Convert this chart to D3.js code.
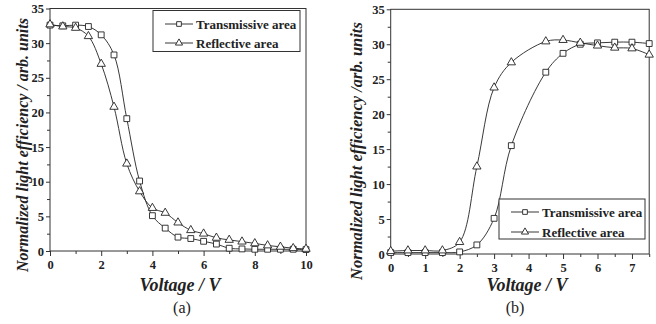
<!DOCTYPE html>
<html>
<head>
<meta charset="utf-8">
<script src="https://cdn.jsdelivr.net/npm/d3@7"></script>
<style>
  html, body { margin: 0; padding: 0; background: #fff; }
  svg { display: block; }
  .tick line { stroke: #333; }
</style>
</head>
<body>
<svg id="chart" width="656" height="324"></svg>
<script>
// ---- Data: panel (a) ----
const voltsA = [0, 0.5, 1, 1.5, 2, 2.5, 3, 3.5, 4, 4.5, 5, 5.5, 6, 6.5, 7, 7.5, 8, 8.5, 9, 9.5, 10];
const transA = [32.6, 32.5, 32.6, 32.4, 31.2, 28.3, 19.1, 10.1, 5.1, 3.3, 2.0, 1.8, 1.4, 1.0, 0.4, 0.3, 0.25, 0.25, 0.25, 0.25, 0.2];
const reflA  = [32.7, 32.4, 32.2, 31.0, 27.0, 20.8, 12.6, 8.6, 6.2, 5.5, 4.1, 3.0, 2.5, 1.9, 1.6, 1.35, 1.1, 0.8, 0.6, 0.4, 0.3];

// ---- Data: panel (b) (no sample at 4 V) ----
const voltsB = [0, 0.5, 1, 1.5, 2, 2.5, 3, 3.5, 4.5, 5, 5.5, 6, 6.5, 7, 7.5];
const transB = [0.2, 0.2, 0.2, 0.2, 0.3, 1.3, 5.1, 15.5, 26.0, 28.7, 30.0, 30.2, 30.3, 30.3, 30.1];
const reflB  = [0.4, 0.5, 0.5, 0.5, 1.7, 12.5, 23.8, 27.4, 30.4, 30.6, 30.2, 29.8, 29.5, 29.4, 28.5];

const yTicks = [0, 5, 10, 15, 20, 25, 30, 35];
const seriesNames = ['Transmissive area', 'Reflective area'];

const svg = d3.select('#chart');
const serif = '"Liberation Serif", "Times New Roman", Times, serif';
const ink = '#222';

const square = d3.symbol().type(d3.symbolSquare).size(34);
const triangle = d3.symbol().type(d3.symbolTriangle).size(30);
const squareSm = d3.symbol().type(d3.symbolSquare).size(22);
const triangleSm = d3.symbol().type(d3.symbolTriangle).size(22);

function marker(sel, kind, small) {
  const sym = kind === 'sq' ? (small ? squareSm : square) : (small ? triangleSm : triangle);
  sel.append('path')
    .attr('d', sym)
    .attr('fill', '#fff')
    .attr('stroke', ink)
    .attr('stroke-width', 0.9);
}

function styleTicks(s) {
  s.select('.domain').remove();
  s.attr('font-family', serif).attr('font-size', 12.5).attr('font-weight', 'bold');
  s.selectAll('text').attr('fill', ink);
}

function panel(o) {
  const x = d3.scaleLinear().domain([0, o.xMax]).range([o.x0, o.x1]);
  const y = d3.scaleLinear().domain([0, 35]).range([o.y0, o.y1]);
  const g = svg.append('g');

  // frame
  g.append('rect')
    .attr('x', o.x0).attr('y', o.y1)
    .attr('width', o.x1 - o.x0).attr('height', o.y0 - o.y1)
    .attr('fill', 'none').attr('stroke', '#333').attr('stroke-width', 1);

  // minor ticks
  g.append('g')
    .attr('transform', `translate(0,${o.y0})`)
    .call(d3.axisBottom(x).tickValues(o.xMinor).tickSize(3).tickFormat(''))
    .call(styleTicks);
  g.append('g')
    .attr('transform', `translate(${o.x0},0)`)
    .call(d3.axisLeft(y).tickValues(d3.range(2.5, 35, 5)).tickSize(3).tickFormat(''))
    .call(styleTicks);

  // major axes
  g.append('g')
    .attr('transform', `translate(0,${o.y0})`)
    .call(d3.axisBottom(x).tickValues(o.xTicks).tickSize(5).tickPadding(4).tickSizeOuter(0))
    .call(styleTicks);
  g.append('g')
    .attr('transform', `translate(${o.x0},0)`)
    .call(d3.axisLeft(y).tickValues(yTicks).tickSize(4).tickPadding(2).tickSizeOuter(0))
    .call(styleTicks);

  // curves
  const line = d3.line()
    .x(d => x(d[0])).y(d => y(d[1]))
    .curve(d3.curveCatmullRom.alpha(0.5));

  o.series.forEach(s => {
    const pts = o.volts.map((v, i) => [v, s.vals[i]]);
    g.append('path')
      .datum(pts)
      .attr('d', line)
      .attr('fill', 'none')
      .attr('stroke', ink)
      .attr('stroke-width', 0.9);
  });
  o.series.forEach(s => {
    const pts = o.volts.map((v, i) => [v, s.vals[i]]);
    g.selectAll(null).data(pts).join('g')
      .attr('transform', d => `translate(${x(d[0])},${y(d[1])})`)
      .each(function () { marker(d3.select(this), s.kind, false); });
  });

  // legend
  const L = o.legend;
  g.append('rect')
    .attr('x', L.x).attr('y', L.y).attr('width', L.w).attr('height', L.h)
    .attr('fill', '#fff').attr('stroke', '#333').attr('stroke-width', 1);
  o.series.forEach((s, i) => {
    const ly = L.rows[i];
    const row = g.append('g');
    row.append('line')
      .attr('x1', L.lx).attr('x2', L.lx + 28)
      .attr('y1', ly).attr('y2', ly)
      .attr('stroke', ink).attr('stroke-width', 0.9);
    const m = row.append('g').attr('transform', `translate(${L.lx + 14},${ly})`);
    marker(m, s.kind, true);
    row.append('text')
      .attr('x', L.lx + 31).attr('y', ly + 4.5)
      .attr('font-family', serif).attr('font-weight', 'bold').attr('font-size', '13px')
      .attr('fill', ink)
      .text(seriesNames[i]);
  });

  // axis titles
  g.append('text')
    .attr('transform', `translate(${o.ytX},${o.ytY}) rotate(-90)`)
    .attr('text-anchor', 'middle')
    .attr('font-family', serif).attr('font-weight', 'bold').attr('font-style', 'italic')
    .attr('font-size', o.ytSize + 'px').attr('fill', ink)
    .text(o.yTitle);
  g.append('text')
    .attr('x', o.xtX).attr('y', 291)
    .attr('text-anchor', 'middle')
    .attr('font-family', serif).attr('font-weight', 'bold').attr('font-style', 'italic')
    .attr('font-size', '18px').attr('fill', ink)
    .text('Voltage / V');
  g.append('text')
    .attr('x', o.capX).attr('y', 313)
    .attr('text-anchor', 'middle')
    .attr('font-family', serif).attr('font-size', '16px').attr('fill', ink)
    .text(o.caption);
}

panel({
  x0: 50, x1: 306, y0: 251, y1: 8.5, xMax: 10,
  xTicks: [0, 2, 4, 6, 8, 10], xMinor: [1, 3, 5, 7, 9],
  volts: voltsA,
  series: [{ vals: transA, kind: 'sq' }, { vals: reflA, kind: 'tri' }],
  legend: { x: 153, y: 10.5, w: 147, h: 41, lx: 165, rows: [24, 43] },
  yTitle: 'Normalized light efficiency / arb. units', ytX: 28, ytY: 145, ytSize: 16,
  xtX: 180, capX: 182, caption: '(a)'
});

panel({
  x0: 390.7, x1: 649.2, y0: 254, y1: 9.3, xMax: 7.5,
  xTicks: [0, 1, 2, 3, 4, 5, 6, 7], xMinor: [0.5, 1.5, 2.5, 3.5, 4.5, 5.5, 6.5, 7.5],
  volts: voltsB,
  series: [{ vals: transB, kind: 'sq' }, { vals: reflB, kind: 'tri' }],
  legend: { x: 499, y: 199, w: 146, h: 40, lx: 511, rows: [212, 232] },
  yTitle: 'Normalized light efficiency /arb. units', ytX: 362, ytY: 151, ytSize: 16.5,
  xtX: 527, capX: 515, caption: '(b)'
});
</script>
</body>
</html>
